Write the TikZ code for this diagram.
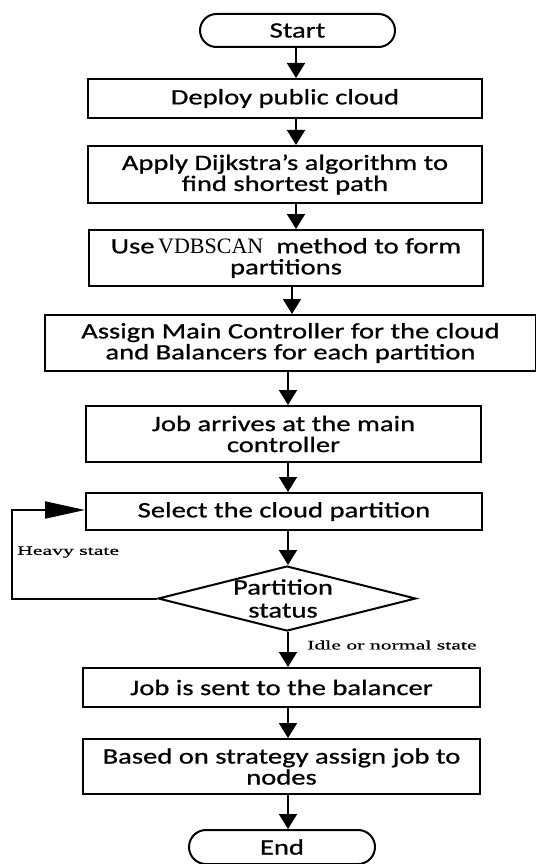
\documentclass[tikz,border=0pt]{standalone}
\usepackage{fontspec}
\setmainfont{Carlito}[FakeStretch=1.3, FakeBold=0.8]
\newfontfamily\statefont{Liberation Serif}[FakeStretch=1.67, FakeBold=0.6]
\newfontfamily\vdbfont{Liberation Serif}
\usepackage{tikz}
\usetikzlibrary{shapes.geometric,shapes.misc}
\usetikzlibrary{arrows.meta}

\tikzset{
  proc/.style={draw, line width=2pt, rectangle, inner sep=2pt, align=center,
    minimum width=394pt, font=\fontsize{22}{21}\selectfont},
  term/.style={draw, line width=2pt, rounded rectangle, inner sep=2pt,
    font=\fontsize{22}{21}\selectfont},
  decision/.style={draw, line width=2pt, diamond, inner sep=0pt,
    minimum width=258pt, minimum height=65pt},
  flow/.style={line width=2pt, -{Triangle[length=15pt,width=18pt]}},
  backflow/.style={line width=2pt, -{Triangle[length=40pt,width=17pt]}},
  statelabel/.style={anchor=west, inner sep=0pt, font=\statefont\fontsize{13}{13}\selectfont},
}

\begin{document}
\begin{tikzpicture}[x=1pt, y=-1pt]
   \useasboundingbox (0,0) rectangle (535,864);

   \node[term, minimum width=199pt, minimum height=33pt] (start) at (297.5,30.5) {Start};

   \node[proc, minimum height=39pt] (deploy) at (285,98.5)
      {Deploy public cloud};
   \node[proc, minimum height=57pt] (apply) at (285,174.5)
      {Apply Dijkstra’s algorithm to\\find shortest path};
   \node[proc, minimum height=56pt] (use) at (286,258)
      {Use\,{\vdbfont VDBSCAN}\ \ method to form\\partitions};
   \node[proc, minimum width=491pt, minimum height=56pt] (assign) at (290.5,343)
      {Assign Main Controller for the cloud\\and Balancers for each partition};
   \node[proc, minimum width=395pt, minimum height=56pt] (arrive) at (283.5,434)
      {Job arrives at the main\\controller};
   \node[proc, minimum width=396pt, minimum height=37pt] (select) at (284,511.5)
      {Select the cloud partition};

   % partition status test
   \node[decision] (status) at (287,598.5) {};
   \node[align=center, inner sep=0pt, font=\fontsize{22}{23}\selectfont] (statustext)
      at ([xshift=-4pt]status.center) {Partition\\status};

   \node[proc, minimum width=397pt, minimum height=39pt] (sent) at (281.5,687.5)
      {Job is sent to the balancer};
   \node[proc, minimum width=397pt, minimum height=55pt] (based) at (281.5,766.5)
      {Based on strategy assign  job to\\nodes};
   \node[term, minimum width=190pt, minimum height=34pt] (end) at (282,847)
      {End};

   % arrow columns
   \coordinate (ax1) at (296,0);
   \coordinate (ax2) at (292,0);
   \coordinate (ax3) at (288,0);
   \coordinate (loopx) at (12,0);

   \draw[flow] (start.south -| ax1) -- (deploy.north -| ax1);
   \draw[flow] (deploy.south -| ax1) -- (apply.north -| ax1);
   \draw[flow] (apply.south -| ax1) -- (use.north -| ax1);
   \draw[flow] (use.south -| ax2) -- (assign.north -| ax2);
   \draw[flow] (assign.south -| ax3) -- (arrive.north -| ax3);
   \draw[flow] (arrive.south -| ax3) -- (select.north -| ax3);
   \draw[flow] (select.south -| ax3) -- (status.north -| ax3);
   \draw[flow] (status.south -| ax3) -- (sent.north -| ax3);
   \draw[flow] (sent.south -| ax3) -- (based.north -| ax3);
   \draw[flow] (based.south -| ax3) -- (end.north -| ax3);

   % heavy state goes back
   \draw[backflow] (status.west) -- (status.west -| loopx) |- ([yshift=1.5pt]select.west);

   \node[statelabel] (heavy) at (17,552) {Heavy state};
   \node[statelabel] (idle) at (307,645) {Idle or normal state};
\end{tikzpicture}
\end{document}
